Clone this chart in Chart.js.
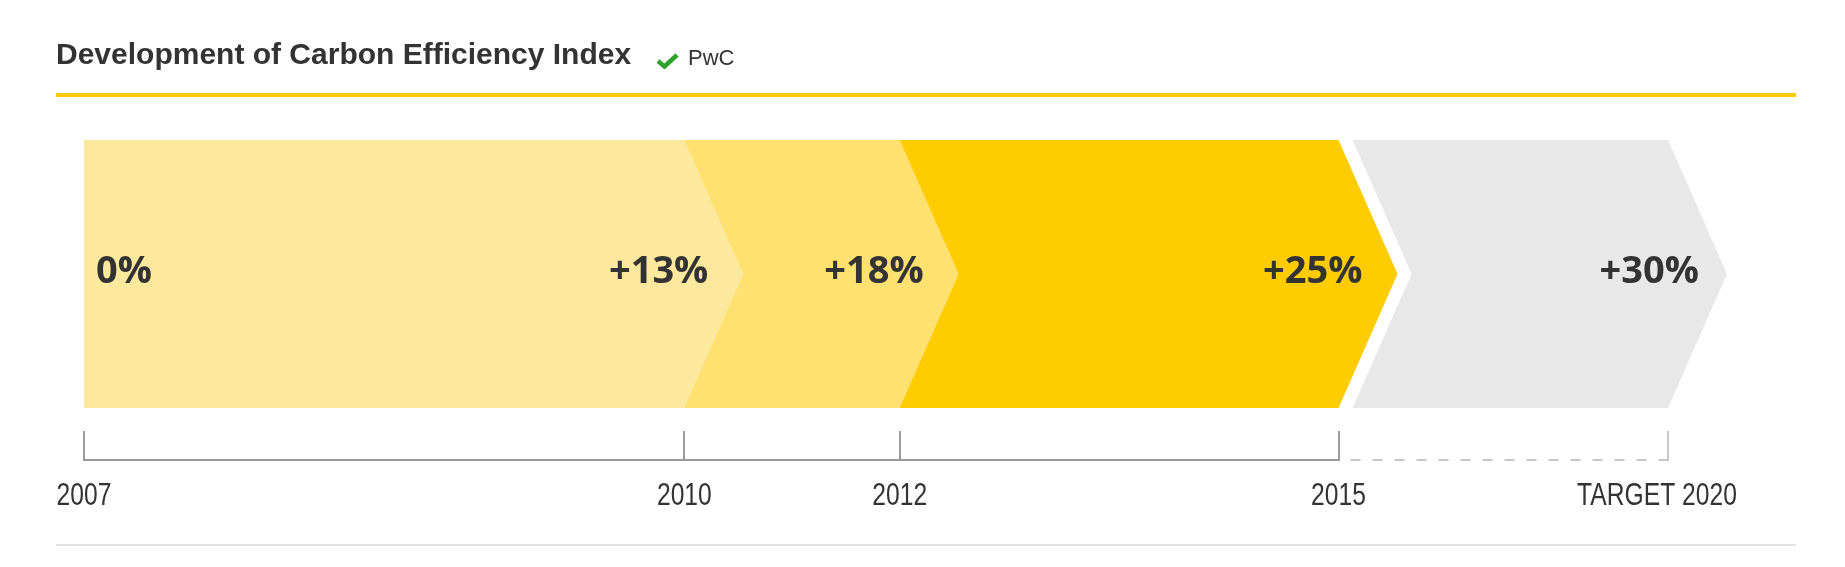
<!DOCTYPE html>
<html>
<head>
<meta charset="utf-8">
<script src="https://cdn.jsdelivr.net/npm/chart.js@4.4.1/dist/chart.umd.min.js"></script>
<style>
  html, body { margin: 0; padding: 0; background: #fff; }
  #wrap { position: relative; width: 1845px; height: 567px; overflow: hidden; }
  #graph_ID { position: absolute; left: 0; top: 0; }
  .titre { position: absolute; left: 56px; top: 39px; font: bold 30px/30px "Liberation Sans", sans-serif; color: #333; white-space: nowrap; }
  .pwc { position: absolute; left: 688px; top: 47px; font: 22px/22px "Liberation Sans", sans-serif; color: #333; }
  .check { position: absolute; left: 656px; top: 53px; }
  .rule { position: absolute; left: 56px; width: 1740px; }
</style>
</head>
<body>
<div id="wrap">
  <canvas id="graph_ID" width="1845" height="567"></canvas>
  <div class="titre">Development of Carbon Efficiency Index</div>
  <svg class="check" width="23" height="16" viewBox="0 0 23 16"><path d="M2 8 L8.5 13.5 L21 2" stroke="#2ea32a" stroke-width="4.5" fill="none"/></svg>
  <div class="pwc">PwC</div>
  <div class="rule" style="top:93px;height:4px;background:#ffcc00"></div>
  <div class="rule" style="top:544px;height:2px;background:#e3e3e3"></div>
</div>
<script>
    var milestones = ['2007', '2010', '2012', '2015', 'TARGET 2020'];
    // where each milestone sits on the timeline (0 = 2007, 100 = target 2020)
    var milestonePos = [0, 37.9, 51.5, 79.2, 100];
    var efficiency = [0, 13, 18, 25, 30];
    var projected = [false, false, false, true];   // last leg is the target, not reached yet
    var stageColours = ['#fde99d', '#fee170', '#ffcc00', '#e8e8e8'];

    var stages = [];
    for (var i = 0; i < milestonePos.length - 1; i++) {
      stages.push({ x: [milestonePos[i], milestonePos[i + 1]], y: 'index' });
    }

    function pct(v) {
      return (v > 0 ? '+' : '') + v + '%';
    }

    // bars are drawn as chevrons, last one first so the points overlap the next leg
    var chevrons = {
      id: 'chevrons',
      beforeDatasetsDraw: function(chart) {
        var ctx = chart.ctx;
        var meta = chart.getDatasetMeta(0);
        var depth = 59, gap = 14;
        for (var i = meta.data.length - 1; i >= 0; i--) {
          var bar = meta.data[i];
          var top = bar.y - bar.height / 2, bot = bar.y + bar.height / 2;
          var left = bar.base, right = bar.x;
          ctx.save();
          ctx.fillStyle = stageColours[i];
          ctx.beginPath();
          if (projected[i]) {
            left += gap;
            ctx.moveTo(left, top);
            ctx.lineTo(right, top);
            ctx.lineTo(right + depth, bar.y);
            ctx.lineTo(right, bot);
            ctx.lineTo(left, bot);
            ctx.lineTo(left + depth, bar.y);
          } else {
            ctx.moveTo(left, top);
            ctx.lineTo(right, top);
            ctx.lineTo(right + depth, bar.y);
            ctx.lineTo(right, bot);
            ctx.lineTo(left, bot);
          }
          ctx.closePath();
          ctx.fill();
          ctx.restore();
        }
        return false;
      },
      afterDraw: function(chart) {
        var ctx = chart.ctx;
        var meta = chart.getDatasetMeta(0);
        ctx.save();
        ctx.fillStyle = '#333333';
        ctx.font = 'bold 38px "Open Sans"';
        ctx.textBaseline = 'alphabetic';
        var b0 = meta.data[0];
        ctx.textAlign = 'left';
        ctx.fillText(pct(efficiency[0]), b0.base + 12, b0.y + 9);
        ctx.textAlign = 'right';
        meta.data.forEach(function(bar, i) {
          var shift = projected[i] ? 31 : 24;
          ctx.fillText(pct(efficiency[i + 1]), bar.x + shift, bar.y + 9);
        });
        ctx.restore();
      }
    };

    // timeline under the bars: solid for what is done, dashed towards the target
    var timeline = {
      id: 'timeline',
      afterDraw: function(chart) {
        var ctx = chart.ctx, xs = chart.scales.x;
        var yLine = chart.chartArea.bottom + 52, yTop = chart.chartArea.bottom + 23;
        var last = milestonePos.length - 1;
        var xDone = xs.getPixelForValue(milestonePos[last - 1]);
        var xEnd = xs.getPixelForValue(milestonePos[last]);
        ctx.save();
        ctx.lineWidth = 2;
        ctx.strokeStyle = '#9b9b9b';
        ctx.beginPath();
        ctx.moveTo(xs.getPixelForValue(milestonePos[0]), yLine);
        ctx.lineTo(xDone, yLine);
        for (var i = 0; i < last; i++) {
          var px = Math.round(xs.getPixelForValue(milestonePos[i]));
          ctx.moveTo(px, yTop);
          ctx.lineTo(px, yLine + 1);
        }
        ctx.stroke();

        ctx.strokeStyle = '#c8c8c8';
        ctx.beginPath();
        ctx.moveTo(Math.round(xEnd), yTop);
        ctx.lineTo(Math.round(xEnd), yLine + 1);
        ctx.stroke();
        ctx.setLineDash([10, 12]);
        ctx.beginPath();
        ctx.moveTo(xDone + 12, yLine);
        ctx.lineTo(xEnd, yLine);
        ctx.stroke();
        ctx.setLineDash([]);

        // milestone labels, condensed like the original typeface
        ctx.fillStyle = '#333333';
        ctx.font = '32px "Liberation Sans"';
        ctx.textAlign = 'center';
        ctx.textBaseline = 'alphabetic';
        xs.ticks.forEach(function(t, i) {
          var nudge = (i === last) ? -11 : 0;
          ctx.save();
          ctx.translate(xs.getPixelForValue(t.value) + nudge, yLine + 45);
          ctx.scale(0.77, 1);
          ctx.fillText(milestones[i], 0, 0);
          ctx.restore();
        });
        ctx.restore();
      }
    };

    var graphique = new Chart(document.getElementById('graph_ID').getContext('2d'), {
      type: 'bar',
      data: {
        labels: ['index'],
        datasets: [{
          data: stages,
          backgroundColor: stageColours,
          barPercentage: 1,
          categoryPercentage: 1
        }]
      },
      options: {
        indexAxis: 'y',
        responsive: false,
        animation: false,
        layout: { padding: { left: 84, right: 177, top: 140, bottom: 39 } },
        scales: {
          x: {
            type: 'linear',
            min: 0,
            max: 100,
            afterBuildTicks: function(scale) {
              scale.ticks = milestonePos.map(function(v) { return { value: v }; });
            },
            afterFit: function(scale) { scale.height = 120; },
            grid: { display: false, drawTicks: false },
            border: { display: false },
            ticks: { display: false }
          },
          y: { display: false }
        },
        plugins: {
          legend: { display: false },
          tooltip: { enabled: false }
        }
      },
      plugins: [chevrons, timeline]
    });
</script>
</body>
</html>
